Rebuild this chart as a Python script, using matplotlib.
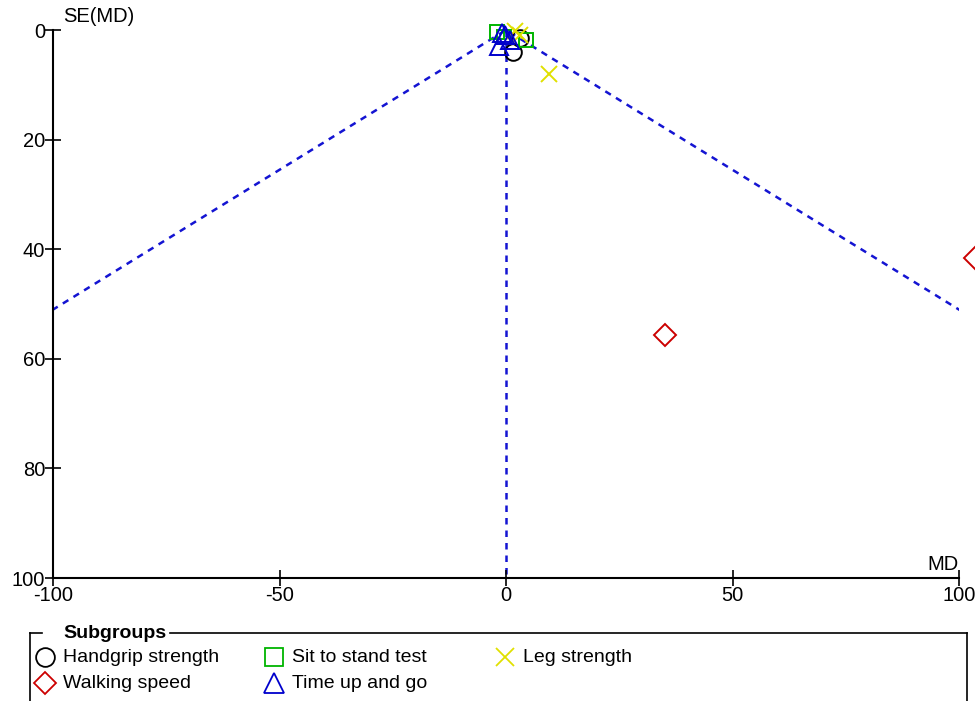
import matplotlib
matplotlib.use("Agg")
import matplotlib.pyplot as plt

plt.rcParams['font.family'] = ['Liberation Sans', 'DejaVu Sans']
plt.rcParams['font.size'] = 14

# study estimates per subgroup (mean difference, standard error)
hand_md = [1.5, 3.0]
hand_se = [4.0, 1.5]
sit_md = [-2.0, -0.5, 4.5]
sit_se = [0.3, 1.2, 1.8]
leg_md = [2.0, 3.0, 9.5]
leg_se = [0.2, 1.0, 8.0]
walk_md = [35.2, 103.5]
walk_se = [55.6, 41.6]
tug_md = [-0.8, -0.2, -1.5, 0.8]
tug_se = [0.5, 1.0, 3.0, 1.8]

pooled_md = 0.0
se_max = 100
x_ticks = [-100, -50, 0, 50, 100]
y_ticks = [0, 20, 40, 60, 80, 100]

# name, md, se, marker, colour, plot size, key size
groups = [
    ("Handgrip strength", hand_md, hand_se, 'o', '#000000', 12, 13.5),
    ("Sit to stand test", sit_md, sit_se, 's', '#00B400', 10.5, 12.5),
    ("Leg strength", leg_md, leg_se, 'x', '#E0E000', 11, 13),
    ("Walking speed", walk_md, walk_se, 'D', '#CC0000', 11.5, 11.5),
    ("Time up and go", tug_md, tug_se, '^', '#0000CC', 12.5, 15),
]

W, H = 975, 701
fig = plt.figure(figsize=(W / 100, H / 100), dpi=100)
ax = fig.add_axes([53 / W, 1 - 578 / H, 906 / W, 548 / H])

# funnel: pseudo 95% limits and pooled line
blue = '#1414D2'
dash = (0, (2.6, 2.4))
ax.plot([pooled_md - 1.96 * se_max, pooled_md, pooled_md + 1.96 * se_max],
        [se_max, 0, se_max], color=blue, lw=1.8, ls=dash, zorder=1)
ax.plot([pooled_md, pooled_md], [0, se_max], color=blue, lw=1.8,
        ls=dash, zorder=1)

for name, md, se, mk, col, ms, kms in groups:
    ax.plot(md, se, ls='none', marker=mk, ms=ms, mfc='none', mec=col,
            mew=1.4, clip_on=False, zorder=3)

ax.set_xlim(-100, 100)
ax.set_ylim(100, 0)
ax.set_xticks(x_ticks)
ax.set_yticks(y_ticks)
ax.set_xticklabels([str(t) for t in x_ticks])
ax.set_yticklabels([str(t) for t in y_ticks])
for s in ['top', 'right']:
    ax.spines[s].set_visible(False)
for s in ['left', 'bottom']:
    ax.spines[s].set_linewidth(1.5)
ax.tick_params(direction='inout', length=11, width=1.2, pad=0, labelsize=14.5)

fig.text(63 / W, 1 - 17 / H, "SE(MD)", ha='left', va='center', fontsize=14.5)
fig.text(959 / W, 1 - 565 / H, "MD", ha='right', va='center', fontsize=14.5)

# subgroup key drawn in pixel space below the plot
lg = fig.add_axes([0, 0, 1, 1], zorder=-1)
lg.set_xlim(0, W)
lg.set_ylim(H, 0)
lg.axis('off')
box_top, box_left, box_right = 633, 30, 967
lg.plot([box_left, 42], [box_top, box_top], color='black', lw=1.2)
lg.plot([170, box_right], [box_top, box_top], color='black', lw=1.2)
lg.plot([box_left, box_left], [box_top, H + 5], color='black', lw=1.2)
lg.plot([box_right, box_right], [box_top, H + 5], color='black', lw=1.2)
lg.text(63, box_top, "Subgroups", fontweight='bold', ha='left', va='center',
        fontsize=14)

key_pos = [(45, 657), (274, 657), (505, 657), (45, 683), (274, 683)]
for (name, md, se, mk, col, ms, kms), (kx, ky) in zip(groups, key_pos):
    lg.plot([kx], [ky], ls='none', marker=mk, ms=kms, mfc='none',
            mec=col, mew=1.3)
    lg.text(kx + 18, ky, name, ha='left', va='center', fontsize=14)

fig.savefig("out.png", dpi=100)
